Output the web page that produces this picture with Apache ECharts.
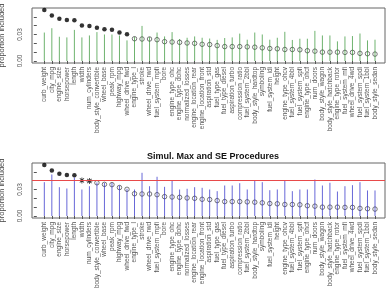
<!DOCTYPE html>
<html>
<head>
<meta charset="utf-8">
<script src="https://cdn.jsdelivr.net/npm/echarts@6/dist/echarts.min.js"></script>
<style>
  html, body { margin: 0; padding: 0; background: #fff; }
  #main { width: 391px; height: 292px; }
</style>
</head>
<body>
<div id="main"></div>
<script>
// variable names, ordered by proportion included
var categories = ['curb_weight', 'city_mpg', 'engine_size', 'horsepower', 'length', 'width',
  'num_cylinders', 'body_style_convertible', 'wheel_base', 'peak_rpm', 'highway_mpg',
  'wheel_drive_fwd', 'engine_type_l', 'stroke', 'wheel_drive_rwd', 'fuel_system_mpfi', 'bore',
  'engine_type_ohc', 'engine_type_dohc', 'normalized_losses', 'engine_location_rear',
  'engine_location_front', 'aspiration_std', 'fuel_type_gas', 'fuel_type_diesel',
  'aspiration_turbo', 'compression_ratio', 'fuel_system_2bbl', 'body_style_hardtop',
  'symboling', 'fuel_system_idi', 'height', 'engine_type_ohcv', 'fuel_system_4bbl',
  'fuel_system_spfi', 'engine_type_ohcf', 'num_doors', 'body_style_wagon',
  'body_style_hatchback', 'engine_type_rotor', 'fuel_system_mfi', 'wheel_drive_4wd',
  'fuel_system_spdi', 'fuel_system_1bbl', 'body_style_sedan'];

// proportion included (same points in both panels)
var propIncluded = [0.0576, 0.0515, 0.0478, 0.0465, 0.0462, 0.0403, 0.0396, 0.0376, 0.0358,
  0.0355, 0.0322, 0.0302, 0.0252, 0.0249, 0.0249, 0.0241, 0.0219, 0.0215, 0.0211, 0.0204,
  0.0200, 0.0189, 0.0186, 0.0174, 0.0163, 0.0163, 0.0163, 0.0160, 0.0156, 0.0149, 0.0141,
  0.0138, 0.0130, 0.0130, 0.0127, 0.0116, 0.0111, 0.0100, 0.0100, 0.0100, 0.0097, 0.0097,
  0.0086, 0.0082, 0.0078];

// local procedure cutoffs (green segments)
var localCut = [0.0322, 0.0371, 0.0274, 0.0267, 0.0352, 0.0267, 0.0289, 0.0327, 0.0300,
  0.0300, 0.0289, 0.0233, 0.0274, 0.0397, 0.0271, 0.0322, 0.0278, 0.0327, 0.0249, 0.0263,
  0.0278, 0.0263, 0.0254, 0.0239, 0.0260, 0.0267, 0.0310, 0.0241, 0.0322, 0.0300, 0.0241,
  0.0263, 0.0330, 0.0238, 0.0252, 0.0252, 0.0341, 0.0289, 0.0289, 0.0222, 0.0278, 0.0282,
  0.0311, 0.0233, 0.0241];

// SE procedure cutoffs (blue segments)
var seCut = [0.0383, 0.0470, 0.0326, 0.0311, 0.0436, 0.0300, 0.0337, 0.0380, 0.0376,
  0.0376, 0.0345, 0.0308, 0.0300, 0.0489, 0.0337, 0.0444, 0.0330, 0.0405, 0.0300, 0.0308,
  0.0326, 0.0319, 0.0300, 0.0281, 0.0345, 0.0345, 0.0371, 0.0300, 0.0399, 0.0383, 0.0292,
  0.0300, 0.0399, 0.0281, 0.0300, 0.0300, 0.0413, 0.0345, 0.0376, 0.0277, 0.0337, 0.0349,
  0.0383, 0.0289, 0.0289];

// simultaneous max cutoff (red line)
var maxCut = 0.0433;

var yTicks = [0, 0.01, 0.02, 0.03, 0.04, 0.05];
var yLabels = [0, 0.03];

var font = 'Liberation Sans';
var starPath = 'path://M-0.14,-1L0.14,-1L0.14,1L-0.14,1Z M-1,-0.14L1,-0.14L1,0.14L-1,0.14Z ' +
  'M-0.8,-0.6L-0.6,-0.8L0.8,0.6L0.6,0.8Z M0.6,-0.8L0.8,-0.6L-0.6,0.8L-0.8,0.6Z';

var xIdx = categories.map(function (c, i) { return i + 1; });

function segData(arr) {
  return arr.map(function (v, i) { return [i + 1, v]; });
}

function pointItem(i, kind) {
  var v = propIncluded[i];
  if (kind === 'filled') {
    return { value: [i + 1, v], symbol: 'circle', symbolSize: 4.5,
      itemStyle: { color: '#000', borderWidth: 0 } };
  }
  if (kind === 'star') {
    return { value: [i + 1, v], symbol: starPath, symbolSize: 6,
      itemStyle: { color: '#000', borderWidth: 0 } };
  }
  return { value: [i + 1, v], symbol: 'circle', symbolSize: 4.5,
    itemStyle: { color: 'rgba(0,0,0,0)', borderColor: '#555', borderWidth: 1 } };
}

var topPoints = propIncluded.map(function (v, i) {
  return pointItem(i, v > localCut[i] ? 'filled' : 'open');
});
var bottomPoints = propIncluded.map(function (v, i) {
  var k = 'open';
  if (v > maxCut) k = 'filled';
  else if (v > seCut[i]) k = 'star';
  return pointItem(i, k);
});

function segRender(color) {
  return function (params, api) {
    var p0 = api.coord([api.value(0), 0]);
    var p1 = api.coord([api.value(0), api.value(1)]);
    return {
      type: 'line',
      shape: { x1: p0[0], y1: p0[1], x2: p1[0], y2: p1[1] },
      style: { stroke: color, lineWidth: 1 }
    };
  };
}

function xAxisDef(gi) {
  return {
    type: 'value', gridIndex: gi, min: -0.64, max: 46.33,
    splitLine: { show: false },
    axisLine: { show: false },
    axisTick: { show: true, length: 3, customValues: xIdx, lineStyle: { color: '#555' } },
    axisLabel: {
      customValues: xIdx, rotate: 90, margin: 4, fontSize: 6.5, fontFamily: font, color: '#555',
      formatter: function (v) { return categories[Math.round(v) - 1] || ''; }
    }
  };
}

function yAxisDef(gi) {
  return {
    type: 'value', gridIndex: gi, min: -0.0023, max: 0.0600,
    name: 'proportion included', nameLocation: 'middle', nameGap: 26, nameRotate: 90,
    nameTextStyle: { fontSize: 7.5, fontFamily: font, color: '#444' },
    splitLine: { show: false },
    axisLine: { show: false },
    axisTick: { show: true, length: 3, customValues: yTicks, lineStyle: { color: '#555' } },
    axisLabel: {
      customValues: yLabels, rotate: 90, margin: 8, fontSize: 6.5, fontFamily: font, color: '#555',
      formatter: function (v) { return v.toFixed(2); }
    }
  };
}

var myChart = echarts.init(document.getElementById('main'), null, { renderer: 'canvas' });

var option = {
  animation: false,
  backgroundColor: '#fff',
  title: [
    { text: 'Local Procedure', left: 208, top: -12, textAlign: 'center',
      textStyle: { fontSize: 9, fontWeight: 'bold', fontFamily: font, color: '#111' } },
    { text: 'Simul. Max and SE Procedures', left: 208, top: 147, textAlign: 'center',
      textStyle: { fontSize: 9, fontWeight: 'bold', fontFamily: font, color: '#111' } }
  ],
  grid: [
    { left: 32, right: 6, top: 8, height: 55, show: true, borderColor: '#666', borderWidth: 1,
      outerBoundsMode: 'none', containLabel: false },
    { left: 32, right: 6, top: 163, height: 55, show: true, borderColor: '#666', borderWidth: 1,
      outerBoundsMode: 'none', containLabel: false }
  ],
  xAxis: [xAxisDef(0), xAxisDef(1)],
  yAxis: [yAxisDef(0), yAxisDef(1)],
  series: [
    {
      type: 'scatter', xAxisIndex: 0, yAxisIndex: 0, data: topPoints, z: 2, silent: true
    },
    {
      type: 'custom', xAxisIndex: 0, yAxisIndex: 0, data: segData(localCut), z: 3, silent: true,
      renderItem: segRender('rgba(34,139,34,0.65)'), encode: { x: 0, y: 1 }
    },
    {
      type: 'scatter', xAxisIndex: 1, yAxisIndex: 1, data: bottomPoints, z: 2, silent: true,
      markLine: {
        silent: true, symbol: 'none', label: { show: false },
        lineStyle: { color: '#e84a4a', width: 1, type: 'solid' },
        data: [{ yAxis: maxCut }]
      }
    },
    {
      type: 'custom', xAxisIndex: 1, yAxisIndex: 1, data: segData(seCut), z: 3, silent: true,
      renderItem: segRender('rgba(40,40,200,0.7)'), encode: { x: 0, y: 1 }
    }
  ]
};

myChart.setOption(option);
</script>
</body>
</html>
